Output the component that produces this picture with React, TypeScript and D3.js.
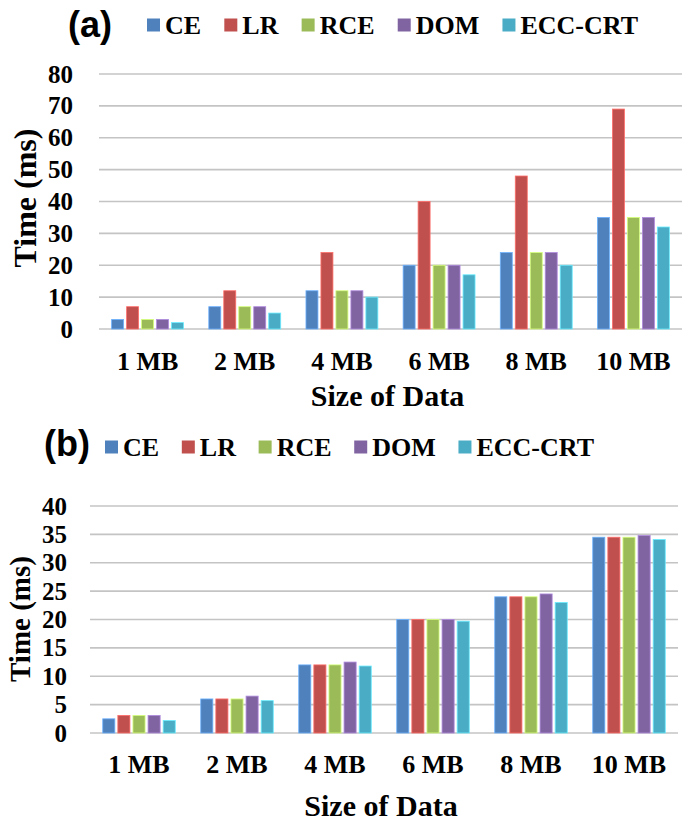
import { useEffect, useRef } from "react";
import * as d3 from "d3";

// categories and series
const categories = ["1 MB", "2 MB", "4 MB", "6 MB", "8 MB", "10 MB"];
const seriesNames = ["CE", "LR", "RCE", "DOM", "ECC-CRT"];
const seriesColors = ["#4F81BD", "#C0504D", "#9BBB59", "#8064A2", "#4BACC6"];

// panel (a) values, ms
const a_CE = [3, 7, 12, 20, 24, 35];
const a_LR = [7, 12, 24, 40, 48, 69];
const a_RCE = [3, 7, 12, 20, 24, 35];
const a_DOM = [3, 7, 12, 20, 24, 35];
const a_ECC = [2, 5, 10, 17, 20, 32];
const a_ticks = [0, 10, 20, 30, 40, 50, 60, 70, 80];

// panel (b) values, ms
const b_CE = [2.5, 6, 12, 20, 24, 34.5];
const b_LR = [3.1, 6, 12, 20, 24, 34.5];
const b_RCE = [3.1, 6, 12, 20, 24, 34.5];
const b_DOM = [3.1, 6.5, 12.5, 20, 24.5, 34.8];
const b_ECC = [2.2, 5.7, 11.8, 19.7, 23, 34.1];
const b_ticks = [0, 5, 10, 15, 20, 25, 30, 35, 40];

const SERIF = "Liberation Serif, Times New Roman, serif";
const SANS = "Liberation Sans, Arial, sans-serif";

interface Panel {
    tag: string;
    values: number[][];
    ticks: number[];
    left: number; right: number; top: number; bottom: number;
    tickRight: number;
    catBaseline: number;
    titleBaseline: number;
    yTitleX: number; yTitleY: number; yTitleSize: number;
    tagX: number; tagBaseline: number;
    legendY: number; legendStart: number; legendEnd: number;
}

const panels: Panel[] = [
    {
        tag: "(a)", values: [a_CE, a_LR, a_RCE, a_DOM, a_ECC], ticks: a_ticks,
        left: 99, right: 682, top: 74, bottom: 329, tickRight: 73,
        catBaseline: 370, titleBaseline: 406,
        yTitleX: 36, yTitleY: 198, yTitleSize: 32,
        tagX: 68, tagBaseline: 37,
        legendY: 25, legendStart: 147, legendEnd: 638,
    },
    {
        tag: "(b)", values: [b_CE, b_LR, b_RCE, b_DOM, b_ECC], ticks: b_ticks,
        left: 90, right: 678, top: 506, bottom: 733, tickRight: 67,
        catBaseline: 773, titleBaseline: 816,
        yTitleX: 30, yTitleY: 619, yTitleSize: 29,
        tagX: 44, tagBaseline: 456,
        legendY: 447, legendStart: 105, legendEnd: 594,
    },
];

function drawPanel(svg: d3.Selection<SVGSVGElement, unknown, null, undefined>, p: Panel) {
    const g = svg.append("g");
    const y = d3.scaleLinear()
        .domain([0, p.ticks[p.ticks.length - 1]])
        .range([p.bottom, p.top]);
    const x0 = d3.scaleBand<string>()
        .domain(categories)
        .range([p.left, p.right])
        .paddingInner(0.26)
        .paddingOuter(0.13);
    const x1 = d3.scaleBand<string>()
        .domain(seriesNames)
        .range([0, x0.bandwidth()])
        .paddingInner(0.2);

    // grid lines
    g.selectAll("line.grid")
        .data(p.ticks)
        .join("line")
        .attr("class", "grid")
        .attr("x1", p.left)
        .attr("x2", p.right)
        .attr("y1", d => y(d))
        .attr("y2", d => y(d))
        .attr("stroke", "#C4C4C4")
        .attr("stroke-width", 1.6);

    // tick labels
    g.selectAll("text.tick")
        .data(p.ticks)
        .join("text")
        .attr("class", "tick")
        .attr("x", p.tickRight)
        .attr("y", d => y(d))
        .attr("dy", "0.34em")
        .attr("text-anchor", "end")
        .attr("font-family", SERIF)
        .attr("font-weight", "bold")
        .attr("font-size", 25)
        .text(d => d);

    // bars
    seriesNames.forEach((s, si) => {
        g.append("g")
            .selectAll("rect")
            .data(p.values[si])
            .join("rect")
            .attr("x", (_, i) => x0(categories[i])! + x1(s)!)
            .attr("y", d => y(d))
            .attr("width", x1.bandwidth())
            .attr("height", d => y(0) - y(d))
            .attr("fill", seriesColors[si])
            .attr("stroke", d3.color(seriesColors[si])!.brighter(0.9).formatHex())
            .attr("stroke-width", 0.8);
    });

    // category labels
    g.selectAll("text.cat")
        .data(categories)
        .join("text")
        .attr("class", "cat")
        .attr("x", d => x0(d)! + x0.bandwidth() / 2)
        .attr("y", p.catBaseline)
        .attr("text-anchor", "middle")
        .attr("font-family", SERIF)
        .attr("font-weight", "bold")
        .attr("font-size", 26)
        .text(d => d);

    // axis titles
    g.append("text")
        .attr("x", (p.left + p.right) / 2 - 3)
        .attr("y", p.titleBaseline)
        .attr("text-anchor", "middle")
        .attr("font-family", SERIF)
        .attr("font-weight", "bold")
        .attr("font-size", 30)
        .text("Size of Data");

    g.append("text")
        .attr("transform", `translate(${p.yTitleX},${p.yTitleY}) rotate(-90)`)
        .attr("text-anchor", "middle")
        .attr("font-family", SERIF)
        .attr("font-weight", "bold")
        .attr("font-size", p.yTitleSize)
        .text("Time (ms)");

    // panel tag
    g.append("text")
        .attr("x", p.tagX)
        .attr("y", p.tagBaseline)
        .attr("font-family", SANS)
        .attr("font-weight", "bold")
        .attr("font-size", 36)
        .text(p.tag);

    // legend: measure the labels, then spread the items over the span
    const sq = 13, pad = 5;
    const items = g.append("g");
    const labels = seriesNames.map(s => items.append("text")
        .attr("y", p.legendY + 9)
        .attr("font-family", SERIF)
        .attr("font-weight", "bold")
        .attr("font-size", 26)
        .text(s));
    const widths = labels.map(t => (t.node() as SVGTextElement).getComputedTextLength());
    const used = d3.sum(widths) + seriesNames.length * (sq + pad);
    const gap = (p.legendEnd - p.legendStart - used) / (seriesNames.length - 1);
    let cx = p.legendStart;
    seriesNames.forEach((_, i) => {
        items.append("rect")
            .attr("x", cx)
            .attr("y", p.legendY - sq / 2)
            .attr("width", sq)
            .attr("height", sq)
            .attr("fill", seriesColors[i]);
        labels[i].attr("x", cx + sq + pad);
        cx += sq + pad + widths[i] + gap;
    });
}

const App = () => {
    const ref = useRef<SVGSVGElement>(null);
    useEffect(() => {
        const svg = d3.select(ref.current!);
        svg.selectAll("*").remove();
        panels.forEach(p => drawPanel(svg, p));
    }, []);
    return (
        <svg ref={ref} width={685} height={825}
            style={{ position: "absolute", left: 0, top: 0, background: "#fff" }} />
    );
};

export default App;
